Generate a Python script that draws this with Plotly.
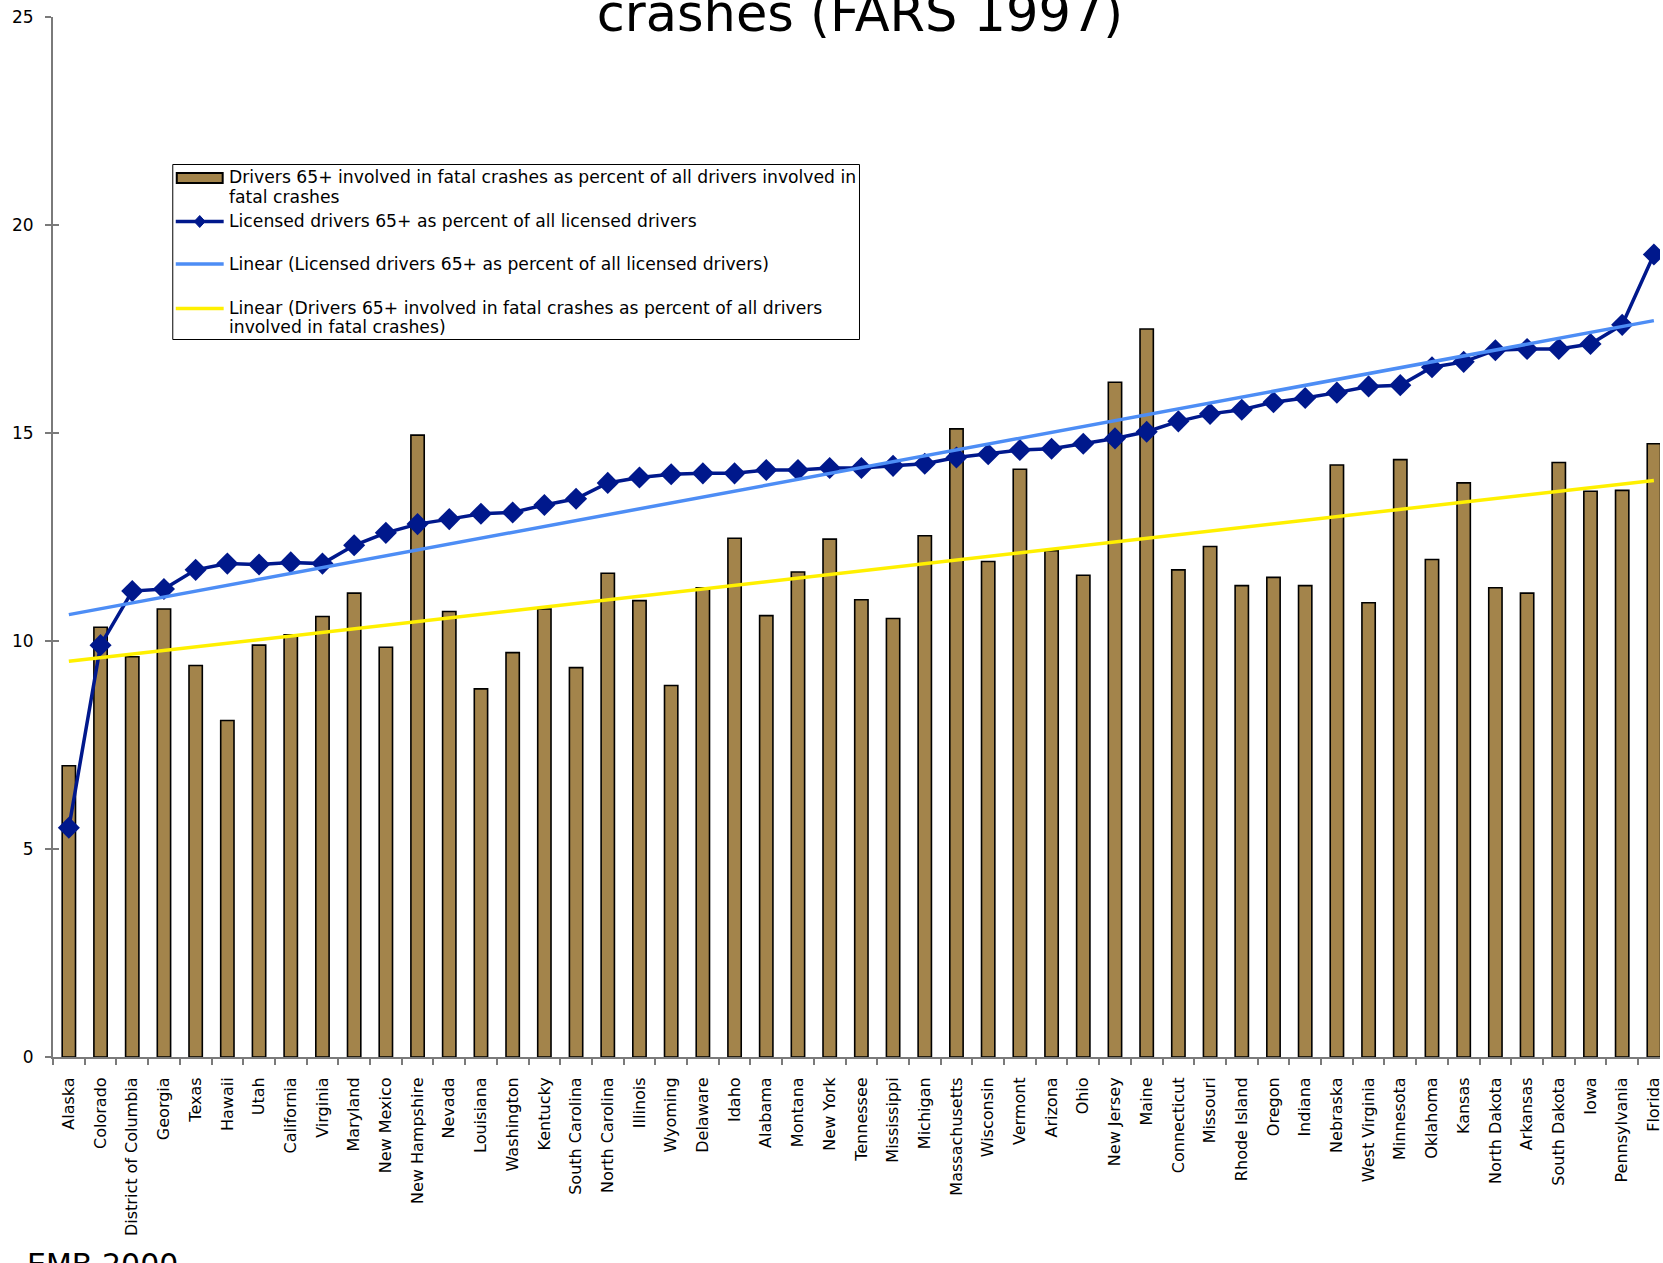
import numpy as np
import plotly.graph_objects as go

# States ordered by share of licensed drivers aged 65+
states = [
    "Alaska", "Colorado", "District of Columbia", "Georgia", "Texas", "Hawaii",
    "Utah", "California", "Virginia", "Maryland", "New Mexico", "New Hampshire",
    "Nevada", "Louisiana", "Washington", "Kentucky", "South Carolina",
    "North Carolina", "Illinois", "Wyoming", "Delaware", "Idaho", "Alabama",
    "Montana", "New York", "Tennessee", "Mississippi", "Michigan",
    "Massachusetts", "Wisconsin", "Vermont", "Arizona", "Ohio", "New Jersey",
    "Maine", "Connecticut", "Missouri", "Rhode Island", "Oregon", "Indiana",
    "Nebraska", "West Virginia", "Minnesota", "Oklahoma", "Kansas",
    "North Dakota", "Arkansas", "South Dakota", "Iowa", "Pennsylvania", "Florida",
]

# Drivers 65+ involved in fatal crashes, % of all drivers in fatal crashes
fatal_crash_pct = [
    7.00, 10.33, 9.62, 10.77, 9.41, 8.09, 9.90, 10.15, 10.59, 11.15,
    9.85, 14.95, 10.71, 8.85, 9.72, 10.77, 9.36, 11.63, 10.97, 8.93,
    11.28, 12.47, 10.61, 11.66, 12.45, 10.99, 10.54, 12.53, 15.10, 11.91,
    14.13, 12.17, 11.58, 16.22, 17.50, 11.71, 12.27, 11.33, 11.53, 11.33,
    14.23, 10.92, 14.36, 11.96, 13.80, 11.28, 11.15, 14.29, 13.60, 13.62,
    14.74,
]

# Licensed drivers 65+, % of all licensed drivers
licensed_pct = [
    5.51, 9.90, 11.20, 11.25, 11.71, 11.86, 11.84, 11.89, 11.86, 12.30,
    12.60, 12.81, 12.93, 13.06, 13.09, 13.27, 13.42, 13.80, 13.93, 14.01,
    14.03, 14.03, 14.11, 14.11, 14.16, 14.16, 14.21, 14.26, 14.41, 14.49,
    14.59, 14.62, 14.74, 14.87, 15.03, 15.28, 15.46, 15.56, 15.74, 15.84,
    15.97, 16.12, 16.15, 16.58, 16.71, 16.99, 17.02, 17.02, 17.14, 17.60,
    19.29,
]

y_ticks = [0, 5, 10, 15, 20, 25]

legend_labels = [
    ["Drivers 65+ involved in fatal crashes as percent of all drivers involved in",
     "fatal crashes"],
    ["Licensed drivers 65+ as percent of all licensed drivers"],
    ["Linear (Licensed drivers 65+ as percent of all licensed drivers)"],
    ["Linear (Drivers 65+ involved in fatal crashes as percent of all drivers",
     "involved in fatal crashes)"],
]

title_text = "crashes (FARS 1997)"
footer_text = "EMB 2000"

# Page geometry (pixels)
W, H = 1663, 1263
L, T, PW, PH = 53, 17, 1610, 1040
CAT_STEP = 31.76


def px(xp):
    return (xp - L) / PW


def py(yp):
    return (T + PH - yp) / PH


BAR = "#A3844B"
NAVY = "#00188C"
SKY = "#4D8DF5"
YEL = "#FFF000"
AXIS = "#7A7A7A"
FONT = "DejaVu Sans"
COMIC = "Comic Sans MS, DejaVu Sans"
TITLE_SIZE = 51

# Least-squares trend lines
idx = np.arange(len(states))
lic_fit = np.polyval(np.polyfit(idx, licensed_pct, 1), idx)
fat_fit = np.polyval(np.polyfit(idx, fatal_crash_pct, 1), idx)

fig = go.Figure()
fig.add_bar(
    x=states, y=fatal_crash_pct, width=0.42,
    marker=dict(color=BAR, line=dict(color="black", width=1.6)),
    name=" ".join(legend_labels[0]),
)
fig.add_scatter(
    x=states, y=licensed_pct, mode="lines+markers",
    line=dict(color=NAVY, width=3.5),
    marker=dict(symbol="diamond", size=17, color=NAVY),
    name=legend_labels[1][0],
)
fig.add_scatter(
    x=states, y=lic_fit, mode="lines", yaxis="y2",
    line=dict(color=SKY, width=3.5), name=legend_labels[2][0],
)
fig.add_scatter(
    x=states, y=fat_fit, mode="lines", yaxis="y2",
    line=dict(color=YEL, width=3.5), name=" ".join(legend_labels[3]),
)

fig.update_layout(
    width=W, height=H, autosize=False,
    margin=dict(l=L, r=W - L - PW, t=T, b=H - T - PH, pad=0),
    paper_bgcolor="white", plot_bgcolor="white",
    showlegend=False,
    font=dict(family=FONT, color="black"),
    title=dict(
        text=title_text, x=860 / W, xanchor="center",
        y=1 - (31 - 0.346 * TITLE_SIZE) / H, yanchor="middle",
        font=dict(family=COMIC, size=TITLE_SIZE, color="black"),
    ),
    xaxis=dict(
        type="category", range=[-0.5, -0.5 + PW / CAT_STEP],
        tickangle=-90, tickson="boundaries",
        ticks="outside", ticklen=6, tickwidth=1.5, tickcolor=AXIS,
        showline=True, linecolor=AXIS, linewidth=2,
        showgrid=False, zeroline=False,
        tickfont=dict(size=16), ticklabelstandoff=12,
    ),
    yaxis=dict(
        range=[0, 25], tickvals=y_ticks,
        ticks="outside", ticklen=6, tickwidth=1.5, tickcolor=AXIS,
        showline=True, linecolor=AXIS, linewidth=2,
        showgrid=False, zeroline=False,
        tickfont=dict(size=17), ticklabelstandoff=8,
    ),
    yaxis2=dict(
        overlaying="y", side="left", anchor="x",
        range=[0, 25], tickvals=y_ticks,
        ticks="inside", ticklen=6, tickwidth=1.5, tickcolor=AXIS,
        showticklabels=False, showline=False, showgrid=False, zeroline=False,
    ),
)

# Legend box
shapes = [
    dict(type="rect", xref="paper", yref="paper",
         x0=px(173), x1=px(861), y0=py(164.5), y1=py(339.5),
         line=dict(color="black", width=1), fillcolor="white", layer="above"),
    dict(type="rect", xref="paper", yref="paper",
         x0=px(177), x1=px(223), y0=py(173), y1=py(183),
         line=dict(color="black", width=2), fillcolor=BAR, layer="above"),
    dict(type="line", xref="paper", yref="paper",
         x0=px(176), x1=px(224), y0=py(221.5), y1=py(221.5),
         line=dict(color=NAVY, width=3.5), layer="above"),
    dict(type="path", xref="paper", yref="paper",
         path="M {a},{b} L {c},{d} L {a},{e} L {f},{d} Z".format(
             a=px(200), b=py(215.5), c=px(205.5), d=py(221.5),
             e=py(227.5), f=px(194.5)),
         line=dict(color=NAVY, width=1), fillcolor=NAVY, layer="above"),
    dict(type="line", xref="paper", yref="paper",
         x0=px(176), x1=px(224), y0=py(264), y1=py(264),
         line=dict(color=SKY, width=3.5), layer="above"),
    dict(type="line", xref="paper", yref="paper",
         x0=px(176), x1=px(224), y0=py(308.5), y1=py(308.5),
         line=dict(color=YEL, width=3.5), layer="above"),
]
fig.update_layout(shapes=shapes)

LEG_SIZE = 17.2
baselines = [[183, 203], [227], [270], [313.5, 332.5]]
for lines, bases in zip(legend_labels, baselines):
    for text, base in zip(lines, bases):
        fig.add_annotation(
            text=text, xref="paper", yref="paper",
            x=px(227), y=py(base - 0.346 * LEG_SIZE),
            xanchor="left", yanchor="middle", showarrow=False,
            font=dict(size=LEG_SIZE, color="black"),
        )

fig.add_annotation(
    text=footer_text, xref="paper", yref="paper",
    x=px(25), y=py(1245), xanchor="left", yanchor="top",
    showarrow=False, font=dict(family=COMIC, size=30, color="black"),
)

fig.write_html("out.html")
